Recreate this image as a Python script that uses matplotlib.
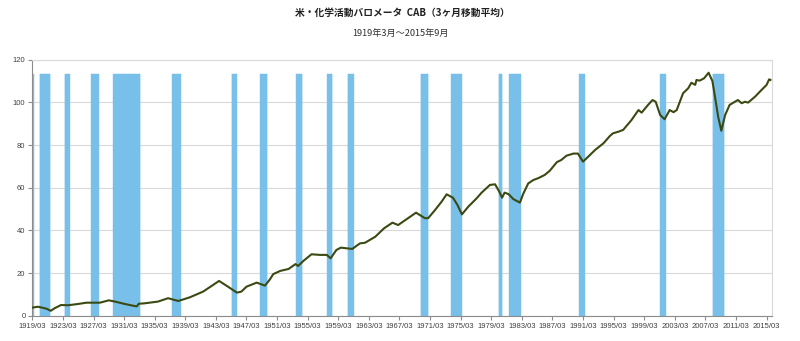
import matplotlib
matplotlib.use("Agg")
import matplotlib.pyplot as plt

# CAB (3-month moving average)
cab_dates = ["1919/03", "1919/12", "1921/01", "1921/08", "1922/02", "1922/12", "1923/11",
             "1925/03", "1926/04", "1928/01", "1929/03", "1930/01", "1931/04", "1932/08",
             "1932/11", "1933/02", "1933/11", "1935/08", "1936/12", "1938/04", "1939/10",
             "1941/07", "1942/08", "1943/08", "1944/10", "1945/12", "1946/07", "1947/03",
             "1948/07", "1949/08", "1950/04", "1950/09", "1951/08", "1952/09", "1953/08",
             "1953/12", "1954/08", "1955/09", "1956/10", "1957/09", "1958/03", "1958/12",
             "1959/07", "1961/01", "1962/01", "1962/09", "1964/01", "1965/03", "1966/04",
             "1967/01", "1969/05", "1970/07", "1970/12", "1971/11", "1972/09", "1973/05",
             "1974/03", "1974/10", "1975/05", "1976/03", "1977/04", "1977/12", "1979/01",
             "1979/09", "1980/03", "1980/08", "1980/12", "1981/06", "1982/02", "1982/12",
             "1983/05", "1984/01", "1984/09", "1985/05", "1986/03", "1986/11", "1987/10",
             "1988/05", "1989/01", "1989/12", "1990/07", "1991/03", "1991/11", "1992/10",
             "1993/11", "1994/09", "1995/02", "1995/11", "1996/06", "1997/07", "1998/06",
             "1998/11", "1999/09", "2000/04", "2000/09", "2001/04", "2001/11", "2002/07",
             "2003/01", "2003/06", "2004/04", "2004/12", "2005/05", "2005/11", "2006/01",
             "2006/06", "2007/01", "2007/08", "2008/02", "2008/06", "2008/11", "2009/04",
             "2009/10", "2010/05", "2010/11", "2011/06", "2011/12", "2012/05", "2012/10",
             "2013/09", "2014/07", "2015/03", "2015/07", "2015/09"]
cab_values = [3.8, 4.2, 3.3, 2.3, 3.5, 5.0, 4.9,
              5.5, 6.1, 6.1, 7.2, 6.6, 5.5, 4.5,
              4.4, 5.6, 5.8, 6.6, 8.2, 6.9, 8.6,
              11.3, 13.9, 16.3, 13.6, 10.8, 11.3, 13.6,
              15.5, 14.1, 17.1, 19.5, 21.0, 21.9, 24.2,
              23.3, 25.6, 28.8, 28.5, 28.5, 26.9, 30.8,
              31.9, 31.3, 33.9, 34.2, 37.0, 41.0, 43.6,
              42.5, 48.3, 45.7, 45.7, 49.6, 53.4, 56.9,
              55.3, 51.9, 47.5, 51.1, 55.0, 57.7, 61.3,
              61.6, 58.5, 55.3, 57.7, 57.0, 54.6, 53.0,
              57.0, 62.0, 63.6, 64.5, 66.0, 68.0, 72.0,
              73.0, 75.0, 76.0, 76.0, 72.2, 74.5, 77.7,
              80.8, 84.2, 85.5, 86.3, 87.1, 91.7, 96.4,
              95.2, 98.8, 101.1, 100.3, 94.1, 92.1, 96.4,
              95.4, 96.4, 104.3, 106.6, 109.2, 108.2, 110.5,
              110.2, 111.3, 113.9, 110.0, 102.7, 93.3, 86.7,
              94.1, 98.8, 99.9, 101.1, 99.6, 100.3, 99.9,
              102.7, 105.8, 108.2, 110.8, 110.5]

# recession periods (first month, last month)
recessions = [("1919/03", "1919/05"), ("1920/03", "1921/07"), ("1923/06", "1924/01"),
              ("1926/12", "1927/11"), ("1929/10", "1933/04"), ("1937/07", "1938/07"),
              ("1945/04", "1945/11"), ("1949/01", "1949/11"), ("1953/09", "1954/06"),
              ("1957/10", "1958/05"), ("1960/06", "1961/03"), ("1970/01", "1970/12"),
              ("1974/01", "1975/04"), ("1980/03", "1980/08"), ("1981/08", "1983/01"),
              ("1990/09", "1991/05"), ("2001/05", "2001/12"), ("2008/03", "2009/08")]
recession_height = 113.5

tick_labels = ["%d/03" % y for y in range(1919, 2016, 4)]


def month_index(s):
    y, m = s.split("/")
    return (int(y) - 1919) * 12 + int(m) - 3


x_line = [month_index(d) for d in cab_dates]
rec_months = []
for a, b in recessions:
    rec_months += list(range(month_index(a), month_index(b) + 1))

fig = plt.figure(figsize=(8, 3.41), dpi=100)
ax = fig.add_axes([0.0404, 0.0742, 0.9242, 0.7507])

ax.bar(rec_months, [recession_height] * len(rec_months), width=1.0,
       color="#78bfe9", edgecolor="#78bfe9", linewidth=0.3, zorder=1)
ax.plot(x_line, cab_values, color="#3b4a12", lw=1.5, zorder=3)

ax.set_xlim(0, 1160)
ax.set_ylim(0, 120)
ax.set_yticks(range(0, 121, 20))
ax.set_xticks([month_index(t) for t in tick_labels])
ax.set_xticklabels(tick_labels)
ax.yaxis.grid(True, color="#d9d9d9", lw=0.8, zorder=0)
ax.set_axisbelow(True)

for s in ["top", "right"]:
    ax.spines[s].set_color("#d9d9d9")
for s in ["left", "bottom"]:
    ax.spines[s].set_color("#8c8c8c")
for s in ax.spines.values():
    s.set_linewidth(0.8)

ax.tick_params(axis="both", length=3, width=0.8, color="#8c8c8c",
               labelsize=5.5, labelcolor="#404040", pad=2)
for lab in ax.get_xticklabels() + ax.get_yticklabels():
    lab.set_family(["Liberation Sans", "DejaVu Sans"])

fig.text(0.503, 0.962, "米・化学活動バロメータ  CAB（3ヶ月移動平均）",
         ha="center", va="center", fontsize=7, fontweight="bold",
         family=["Noto Sans CJK JP", "DejaVu Sans"], color="#202020")
fig.text(0.501, 0.903, "1919年3月～2015年9月", ha="center", va="center",
         fontsize=6.6, family=["Noto Sans CJK JP", "DejaVu Sans"], color="#303030")

fig.savefig("out.png", dpi=100)
